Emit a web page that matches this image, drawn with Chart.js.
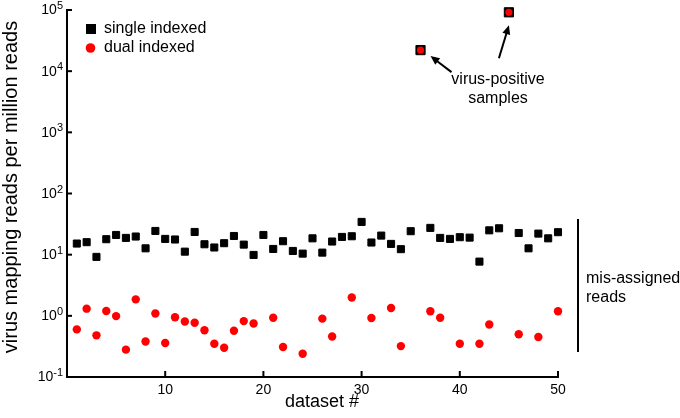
<!DOCTYPE html>
<html>
<head>
<meta charset="utf-8">
<script src="https://cdn.jsdelivr.net/npm/chart.js@4.4.1/dist/chart.umd.min.js"></script>
<style>
  html, body { margin: 0; padding: 0; background: #fff; }
</style>
</head>
<body>
<canvas id="myChart" width="680" height="418"></canvas>
<script>
// numero do dataset (eixo x)
const datasetNums = [1, 2, 3, 4, 5, 6, 7, 8, 9, 10,
    11, 12, 13, 14, 15, 16, 17, 18, 19, 20,
    21, 22, 23, 24, 25, 26, 27, 28, 29, 30,
    31, 32, 33, 34, 35, 36, 37, 38, 39, 40,
    41, 42, 43, 44, 45, 46, 47, 48, 49, 50];

// reads por milhao - single indexed
const singleIndexed = [15.2, 16, 9.2, 17.9, 21, 18.8, 19.8, 12.7, 24.4, 18.1,
    17.7, 11.2, 23.5, 14.8, 13.1, 15.4, 20.2, 14.6, 9.9, 21,
    12.4, 16.6, 11.5, 10.4, 18.5, 10.8, 16.4, 19.5, 20, 34.3,
    15.8, 20.5, 15, 12.3, 24.2, 22100, 27.4, 18.8, 18.1, 19.3,
    19, 7.7, 25, 27, 91700, 22.6, 12.7, 22.1, 18.5, 23.3];

// reads por milhao - dual indexed (null = sem ponto)
const dualIndexed = [0.60, 1.31, 0.48, 1.2, 0.99, 0.28, 1.86, 0.38, 1.09, 0.36,
    0.95, 0.81, 0.77, 0.58, 0.35, 0.30, 0.57, 0.82, 0.75, null,
    0.93, 0.31, null, 0.24, null, 0.90, 0.46, null, 1.99, null,
    0.92, null, 1.34, 0.32, null, 22100, 1.19, 0.93, null, 0.35,
    null, 0.35, 0.72, null, 91700, 0.50, null, 0.45, null, 1.19];

// ticks
const xTicks = [10, 20, 30, 40, 50];
const yExpoentes = [-1, 0, 1, 2, 3, 4, 5];

// amostras virus-positivas (indices no eixo x)
const virusPositivos = [36, 45];

const fonte = '"Liberation Sans", Arial, Helvetica, sans-serif';
const vermelho = 'rgb(255, 0, 0)';

function seta(ctx, x1, y1, x2, y2) {
    const ang = Math.atan2(y2 - y1, x2 - x1);
    const comp = 9, larg = 4;
    ctx.beginPath();
    ctx.moveTo(x1, y1);
    ctx.lineTo(x2 - Math.cos(ang) * comp * 0.8, y2 - Math.sin(ang) * comp * 0.8);
    ctx.stroke();
    ctx.beginPath();
    ctx.moveTo(x2, y2);
    ctx.lineTo(x2 - Math.cos(ang) * comp - Math.sin(ang) * larg, y2 - Math.sin(ang) * comp + Math.cos(ang) * larg);
    ctx.lineTo(x2 - Math.cos(ang) * comp + Math.sin(ang) * larg, y2 - Math.sin(ang) * comp - Math.cos(ang) * larg);
    ctx.closePath();
    ctx.fill();
}

const anotacoes = {
    id: 'anotacoes',
    afterDraw(chart) {
        const ctx = chart.ctx;
        const xs = chart.scales.x, ys = chart.scales.y;
        const area = chart.chartArea;
        ctx.save();
        ctx.strokeStyle = '#000';
        ctx.fillStyle = '#000';
        ctx.lineWidth = 2;

        // ticks do eixo y (para dentro) + rotulos 10^n
        yExpoentes.forEach(e => {
            const y = ys.getPixelForValue(Math.pow(10, e));
            ctx.beginPath();
            ctx.moveTo(area.left, y);
            ctx.lineTo(area.left + 5, y);
            ctx.stroke();
            ctx.textBaseline = 'middle';
            ctx.textAlign = 'right';
            ctx.font = '11px ' + fonte;
            const exp = String(e);
            const wExp = ctx.measureText(exp).width;
            ctx.fillText(exp, 63, y - 4);
            ctx.font = '14px ' + fonte;
            ctx.fillText('10', 63 - wExp, y + 0.5);
        });

        // ticks do eixo x
        xTicks.forEach(t => {
            const x = xs.getPixelForValue(t);
            ctx.beginPath();
            ctx.moveTo(x, area.bottom);
            ctx.lineTo(x, area.bottom - 6);
            ctx.stroke();
            ctx.font = '14px ' + fonte;
            ctx.textAlign = 'center';
            ctx.textBaseline = 'alphabetic';
            ctx.fillText(String(t), x, 394);
        });

        // titulos dos eixos
        ctx.font = '18px ' + fonte;
        ctx.textAlign = 'center';
        ctx.textBaseline = 'alphabetic';
        ctx.fillText('dataset #', 322, 407);

        ctx.save();
        ctx.translate(11, 187);
        ctx.rotate(-Math.PI / 2);
        ctx.font = '20px ' + fonte;
        ctx.textBaseline = 'middle';
        ctx.fillText('virus mapping reads per million reads', 0, 0);
        ctx.restore();

        // legenda
        ctx.fillRect(86, 24, 10, 10);
        ctx.fillStyle = vermelho;
        ctx.beginPath();
        ctx.arc(90.5, 48, 4.8, 0, Math.PI * 2);
        ctx.fill();
        ctx.fillStyle = '#000';
        ctx.font = '16px ' + fonte;
        ctx.textAlign = 'left';
        ctx.textBaseline = 'middle';
        ctx.fillText('single indexed', 104, 29);
        ctx.fillText('dual indexed', 104, 48);

        // setas para as amostras virus-positivas
        const p36 = { x: xs.getPixelForValue(virusPositivos[0]), y: ys.getPixelForValue(singleIndexed[virusPositivos[0] - 1]) };
        const p45 = { x: xs.getPixelForValue(virusPositivos[1]), y: ys.getPixelForValue(singleIndexed[virusPositivos[1] - 1]) };
        seta(ctx, p36.x + 31, p36.y + 22, p36.x + 10, p36.y + 6);
        seta(ctx, p45.x - 10, p45.y + 46, p45.x, p45.y + 13);

        ctx.textAlign = 'center';
        ctx.fillText('virus-positive', 498, 80);
        ctx.fillText('samples', 498, 99);

        // mis-assigned reads
        ctx.beginPath();
        ctx.moveTo(578, 219);
        ctx.lineTo(578, 352);
        ctx.stroke();
        ctx.textAlign = 'left';
        ctx.fillText('mis-assigned', 586, 279);
        ctx.fillText('reads', 586, 298);

        ctx.restore();
    }
};

const singleData = datasetNums.map((n, i) => ({ x: n, y: singleIndexed[i] }));
const dualData = datasetNums.map((n, i) => ({ x: n, y: dualIndexed[i] })).filter(p => p.y !== null);

const ctx = document.getElementById('myChart').getContext('2d');
window.myChartInstance = new Chart(ctx, {
    type: 'scatter',
    data: {
        datasets: [{
            label: 'single indexed',
            data: singleData,
            order: 1,
            clip: false,
            pointStyle: 'rect',
            pointRadius: c => (c.raw && c.raw.y > 1000 ? 6.5 : 5),
            backgroundColor: '#000',
            borderColor: '#000',
            borderWidth: 1
        }, {
            label: 'dual indexed',
            data: dualData,
            order: 0,
            clip: false,
            pointStyle: 'circle',
            pointRadius: c => (c.raw && c.raw.y > 1000 ? 3.6 : 4.2),
            backgroundColor: vermelho,
            borderColor: vermelho,
            borderWidth: 0
        }]
    },
    options: {
        responsive: false,
        animation: false,
        devicePixelRatio: 1,
        events: [],
        layout: { padding: { left: 67, top: 10, right: 122, bottom: 41 } },
        plugins: {
            legend: { display: false },
            tooltip: { enabled: false }
        },
        scales: {
            x: {
                type: 'linear',
                min: 0,
                max: 50,
                grid: { display: false, drawTicks: false },
                ticks: { display: false },
                border: { display: true, color: '#000', width: 2 }
            },
            y: {
                type: 'logarithmic',
                min: 0.1,
                max: 100000,
                grid: { display: false, drawTicks: false },
                ticks: { display: false },
                border: { display: true, color: '#000', width: 2 }
            }
        }
    },
    plugins: [anotacoes]
});
</script>
</body>
</html>
